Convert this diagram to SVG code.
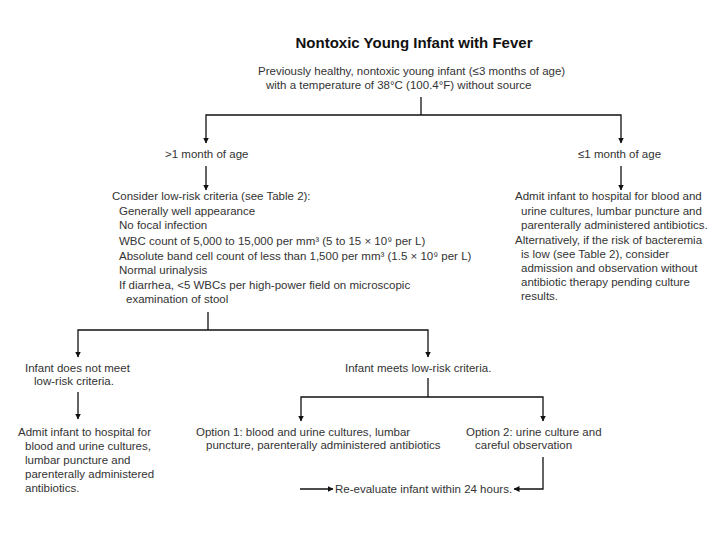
<svg xmlns="http://www.w3.org/2000/svg" width="720" height="540" viewBox="0 0 720 540">
<defs>
<marker id="arr" markerWidth="6" markerHeight="6" refX="5.5" refY="3" orient="auto" markerUnits="userSpaceOnUse">
<path d="M0,0 L6,3 L0,6 Z" fill="#111"/>
</marker>
<style>
text{font-family:"Liberation Sans",Arial,sans-serif;font-size:11.5px;fill:#333}
.title{font-size:15px;font-weight:bold;fill:#111}
.c{stroke:#111;stroke-width:1.3;fill:none}
.a{marker-end:url(#arr)}
</style>
</defs>
<rect width="720" height="540" fill="#fff"/>
<g id="title"><text class="title" x="414" y="48" text-anchor="middle">Nontoxic Young Infant with Fever</text></g>
<g id="n-start">
<text x="258" y="75">Previously healthy, nontoxic young infant (≤3 months of age)</text>
<text x="266" y="89">with a temperature of 38°C (100.4°F) without source</text>
</g>
<g id="n-gt1"><text x="165" y="158">&gt;1 month of age</text></g>
<g id="n-le1"><text x="578" y="158">≤1 month of age</text></g>
<g id="n-criteria">
<text x="112" y="200">Consider low-risk criteria (see Table 2):</text>
<text x="119" y="215">Generally well appearance</text>
<text x="119" y="229">No focal infection</text>
<text x="119" y="245">WBC count of 5,000 to 15,000 per mm³ (5 to 15 × 10⁹ per L)</text>
<text x="119" y="260">Absolute band cell count of less than 1,500 per mm³ (1.5 × 10⁹ per L)</text>
<text x="119" y="274">Normal urinalysis</text>
<text x="119" y="289">If diarrhea, &lt;5 WBCs per high-power field on microscopic</text>
<text x="126" y="303">examination of stool</text>
</g>
<g id="n-admit1">
<text x="515" y="200">Admit infant to hospital for blood and</text>
<text x="521" y="215">urine cultures, lumbar puncture and</text>
<text x="521" y="229">parenterally administered antibiotics.</text>
<text x="515" y="244">Alternatively, if the risk of bacteremia</text>
<text x="521" y="258">is low (see Table 2), consider</text>
<text x="521" y="272">admission and observation without</text>
<text x="521" y="286">antibiotic therapy pending culture</text>
<text x="521" y="300">results.</text>
</g>
<g id="n-notmeet">
<text x="25" y="372">Infant does not meet</text>
<text x="34" y="385">low-risk criteria.</text>
</g>
<g id="n-meets"><text x="345" y="372">Infant meets low-risk criteria.</text></g>
<g id="n-admit2">
<text x="18" y="436">Admit infant to hospital for</text>
<text x="25" y="450">blood and urine cultures,</text>
<text x="25" y="464">lumbar puncture and</text>
<text x="25" y="478">parenterally administered</text>
<text x="25" y="492">antibiotics.</text>
</g>
<g id="n-opt1">
<text x="196" y="436">Option 1: blood and urine cultures, lumbar</text>
<text x="206" y="449">puncture, parenterally administered antibiotics</text>
</g>
<g id="n-opt2">
<text x="466" y="436">Option 2: urine culture and</text>
<text x="475" y="449">careful observation</text>
</g>
<g id="n-reeval"><text x="335" y="493">Re-evaluate infant within 24 hours.</text></g>
<g id="connectors">
<path class="c" d="M421,97 V115"/>
<path class="c a" d="M421,115 H206 V143"/>
<path class="c a" d="M421,115 H621 V143"/>
<path class="c a" d="M206,166 V190"/>
<path class="c a" d="M621,166 V190"/>
<path class="c" d="M208,312 V330"/>
<path class="c a" d="M208,330 H78 V357"/>
<path class="c a" d="M208,330 H428 V357"/>
<path class="c a" d="M78,392 V419"/>
<path class="c" d="M428,378 V397"/>
<path class="c a" d="M428,397 H301 V421"/>
<path class="c a" d="M428,397 H543 V421"/>
<path class="c a" d="M300,489 H333"/>
<path class="c a" d="M543,457 V489 H514"/>
</g>
</svg>
